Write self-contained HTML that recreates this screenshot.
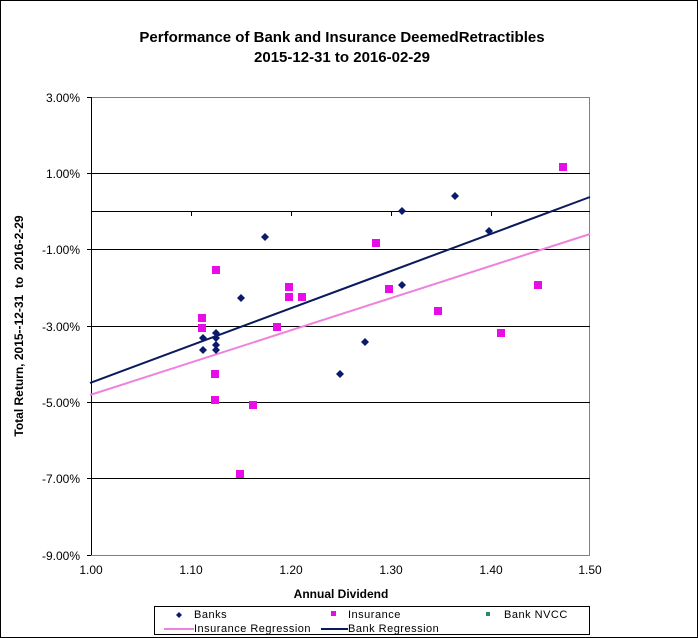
<!DOCTYPE html>
<html><head><style>
body{margin:0;background:#fff}
svg{display:block;font-family:"Liberation Sans",Arial,sans-serif}
</style></head><body>
<svg width="698" height="638" viewBox="0 0 698 638">
<rect x="0.5" y="0.5" width="697" height="637" fill="#fff" stroke="#000"/>
<text x="342" y="42" text-anchor="middle" font-size="15" font-weight="bold">Performance of Bank and Insurance DeemedRetractibles</text>
<text x="342" y="62" text-anchor="middle" font-size="15" font-weight="bold">2015-12-31 to 2016-02-29</text>
<rect x="91.5" y="97.5" width="498" height="458" fill="#fff" stroke="#808080"/>
<g stroke="#000" stroke-width="1">
<line x1="91" y1="173.5" x2="590" y2="173.5"/>
<line x1="91" y1="249.5" x2="590" y2="249.5"/>
<line x1="91" y1="326.5" x2="590" y2="326.5"/>
<line x1="91" y1="402.5" x2="590" y2="402.5"/>
<line x1="91" y1="478.5" x2="590" y2="478.5"/>
<line x1="91" y1="211.5" x2="590" y2="211.5"/>
<line x1="91.5" y1="97" x2="91.5" y2="555"/>
<line x1="87" y1="97.5" x2="91" y2="97.5"/><line x1="87" y1="173.5" x2="91" y2="173.5"/><line x1="87" y1="249.5" x2="91" y2="249.5"/><line x1="87" y1="326.5" x2="91" y2="326.5"/><line x1="87" y1="402.5" x2="91" y2="402.5"/><line x1="87" y1="478.5" x2="91" y2="478.5"/><line x1="87" y1="555.5" x2="91" y2="555.5"/>
<line x1="191.5" y1="211" x2="191.5" y2="216"/><line x1="291.5" y1="211" x2="291.5" y2="216"/><line x1="391.5" y1="211" x2="391.5" y2="216"/><line x1="491.5" y1="211" x2="491.5" y2="216"/>
</g>
<g font-size="12" text-anchor="end">
<text x="80" y="102">3.00%</text><text x="80" y="178">1.00%</text><text x="80" y="254">-1.00%</text><text x="80" y="331">-3.00%</text><text x="80" y="407">-5.00%</text><text x="80" y="483">-7.00%</text><text x="80" y="560">-9.00%</text>
</g>
<g font-size="12" text-anchor="middle">
<text x="91" y="574">1.00</text><text x="191" y="574">1.10</text><text x="291" y="574">1.20</text><text x="391" y="574">1.30</text><text x="491" y="574">1.40</text><text x="590" y="574">1.50</text>
</g>
<text x="341" y="598" text-anchor="middle" font-size="12" font-weight="bold">Annual Dividend</text>
<text transform="translate(23,326) rotate(-90)" text-anchor="middle" font-size="12" font-weight="bold" xml:space="preserve">Total Return, 2015--12-31  to  2016-2-29</text>
<line x1="90" y1="395" x2="590" y2="234" stroke="#ee82dd" stroke-width="2"/>
<line x1="90" y1="383" x2="590" y2="197" stroke="#0a1a5c" stroke-width="2"/>
<g fill="#e80ce8">
<rect x="559" y="163" width="8" height="8"/><rect x="212" y="266" width="8" height="8"/><rect x="285" y="283" width="8" height="8"/><rect x="285" y="293" width="8" height="8"/><rect x="298" y="293" width="8" height="8"/><rect x="372" y="239" width="8" height="8"/><rect x="385" y="285" width="8" height="8"/><rect x="434" y="307" width="8" height="8"/><rect x="497" y="329" width="8" height="8"/><rect x="534" y="281" width="8" height="8"/><rect x="273" y="323" width="8" height="8"/><rect x="198" y="314" width="8" height="8"/><rect x="198" y="324" width="8" height="8"/><rect x="211" y="370" width="8" height="8"/><rect x="211" y="396" width="8" height="8"/><rect x="249" y="401" width="8" height="8"/><rect x="236" y="470" width="8" height="8"/>
</g>
<g fill="#0a1a6c">
<path d="M265 233l4 4-4 4-4-4z"/><path d="M241 294l4 4-4 4-4-4z"/><path d="M402 207l4 4-4 4-4-4z"/><path d="M402 281l4 4-4 4-4-4z"/><path d="M455 192l4 4-4 4-4-4z"/><path d="M489 227l4 4-4 4-4-4z"/><path d="M365 338l4 4-4 4-4-4z"/><path d="M340 370l4 4-4 4-4-4z"/><path d="M203 334l4 4-4 4-4-4z"/><path d="M203 346l4 4-4 4-4-4z"/><path d="M216 329l4 4-4 4-4-4z"/><path d="M216 334l4 4-4 4-4-4z"/><path d="M216 341l4 4-4 4-4-4z"/><path d="M216 346l4 4-4 4-4-4z"/>
</g>
<rect x="154.5" y="606.5" width="435" height="28" fill="#fff" stroke="#000"/>
<g font-size="11" letter-spacing="0.5">
<path d="M179 612l3 3-3 3-3-3z" fill="#0a1a6c"/><text x="194" y="618">Banks</text>
<rect x="331" y="611" width="5" height="5" fill="#e80ce8"/><text x="348" y="618">Insurance</text>
<rect x="486" y="612" width="4" height="4" fill="#2a8a6a"/><text x="504" y="618">Bank NVCC</text>
<line x1="164" y1="629" x2="194" y2="629" stroke="#ee82dd" stroke-width="2"/><text x="194" y="632">Insurance Regression</text>
<line x1="321" y1="629" x2="348" y2="629" stroke="#0a1a5c" stroke-width="2"/><text x="348" y="632">Bank Regression</text>
</g>
</svg>
</body></html>
